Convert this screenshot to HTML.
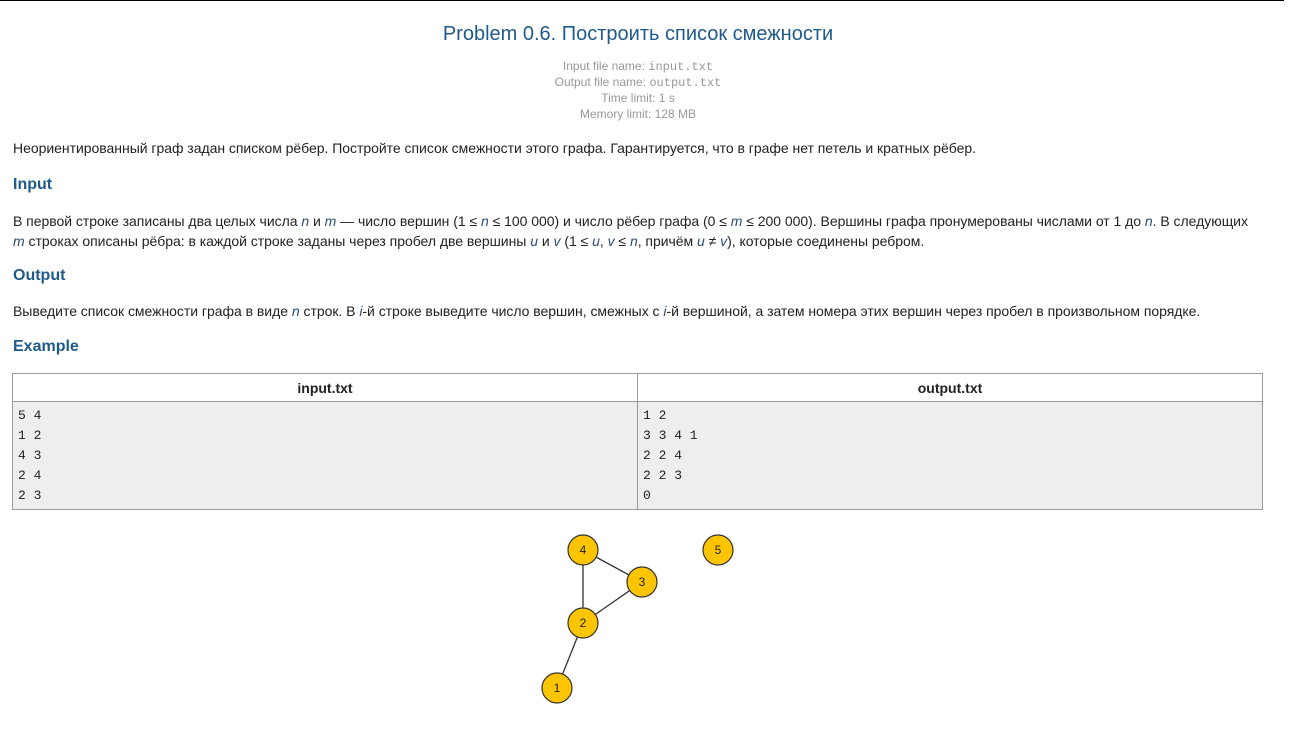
<!DOCTYPE html>
<html><head><meta charset="utf-8"><style>
body{margin:0;width:1290px;height:750px;background:#fff;font-family:"Liberation Sans",Arial,sans-serif;color:#222;position:relative;overflow:hidden}
.a{position:absolute;white-space:nowrap}
.t{font-size:14px;letter-spacing:-0.03px}
h2{position:absolute;margin:0;font-size:16px;font-weight:bold;color:#1f5a8c;left:13px}
i{color:#2a4f78}
.m{font-family:"Liberation Mono",monospace}
.meta{font-size:12px;color:#999;text-align:center;width:1290px;left:0}
table{position:absolute;left:12px;top:373px;width:1251px;border-collapse:collapse;font-size:14px}
td,th{border:1px solid #999;padding:0}
th{height:27px;font-weight:bold;background:#fff}
td{background:#eee;vertical-align:top;padding:4px 5px 3px 5px;font-family:"Liberation Mono",monospace;font-size:13px;line-height:20px}
</style></head><body>
<div class="a" style="left:0;top:0;width:1284px;height:1px;background:#000"></div>
<div class="a" style="left:0;width:1276px;text-align:center;top:23px;font-size:20px;color:#1f5a8c">Problem 0.6. Построить список смежности</div>
<div class="a meta" style="top:59px;left:-7px">Input file name: <span class="m">input.txt</span></div>
<div class="a meta" style="top:75px;left:-7px">Output file name: <span class="m">output.txt</span></div>
<div class="a meta" style="top:91px;left:-7px">Time limit: 1 s</div>
<div class="a meta" style="top:107px;left:-7px">Memory limit: 128 MB</div>
<div class="a t" style="left:13px;top:140px">Неориентированный граф задан списком рёбер. Постройте список смежности этого графа. Гарантируется, что в графе нет петель и кратных рёбер.</div>
<h2 style="top:176px">Input</h2>
<div class="a t" style="left:13px;top:211px;line-height:20px">В первой строке записаны два целых числа <i>n</i> и <i>m</i> — число вершин (1 ≤ <i>n</i> ≤ 100 000) и число рёбер графа (0 ≤ <i>m</i> ≤ 200 000). Вершины графа пронумерованы числами от 1 до <i>n</i>. В следующих<br><i>m</i> строках описаны рёбра: в каждой строке заданы через пробел две вершины <i>u</i> и <i>v</i> (1 ≤ <i>u</i>, <i>v</i> ≤ <i>n</i>, причём <i>u</i> ≠ <i>v</i>), которые соединены ребром.</div>
<h2 style="top:267px">Output</h2>
<div class="a t" style="left:13px;top:303px">Выведите список смежности графа в виде <i>n</i> строк. В <i>i</i>-й строке выведите число вершин, смежных с <i>i</i>-й вершиной, а затем номера этих вершин через пробел в произвольном порядке.</div>
<h2 style="top:338px">Example</h2>
<table><tr><th style="width:624px">input.txt</th><th>output.txt</th></tr>
<tr><td style="padding-left:5px">5 4<br>1 2<br>4 3<br>2 4<br>2 3</td><td>1 2<br>3 3 4 1<br>2 2 4<br>2 2 3<br>0</td></tr></table>
<svg class="a" style="left:0;top:0" width="1290" height="750">
<g stroke="#333" stroke-width="1.3"><line x1="583" y1="550" x2="642" y2="582"/><line x1="583" y1="550" x2="583" y2="623"/><line x1="642" y1="582" x2="583" y2="623"/><line x1="583" y1="623" x2="557" y2="688"/></g>
<g fill="#fdc500" stroke="#333" stroke-width="1.2"><circle cx="583" cy="550" r="15"/><circle cx="642" cy="582" r="15"/><circle cx="583" cy="623" r="15"/><circle cx="557" cy="688" r="15"/><circle cx="718" cy="550" r="15"/></g>
<g font-family="Liberation Sans,Arial,sans-serif" font-size="12" text-anchor="middle" fill="#222"><text x="583" y="554">4</text><text x="642" y="586">3</text><text x="583" y="627">2</text><text x="557" y="692">1</text><text x="718" y="554">5</text></g>
</svg>
</body></html>
